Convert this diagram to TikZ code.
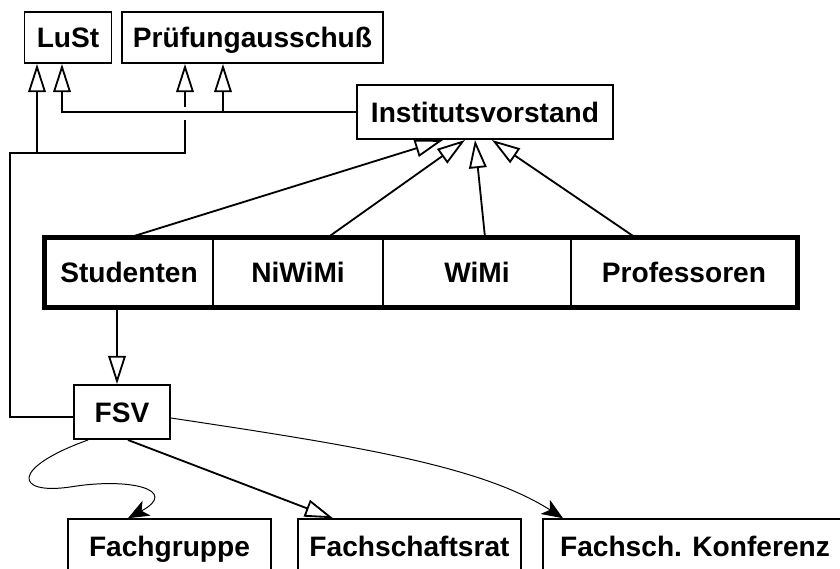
\documentclass[tikz,border=0pt]{standalone}
\usepackage{fontspec}
\setmainfont{Liberation Sans}
\usetikzlibrary{arrows.meta,calc}
\tikzset{
	box/.style={draw, line width=1.4pt, inner sep=0pt, text height=14.3pt, text depth=0pt, font=\bfseries\fontsize{20}{24}\selectfont},
	cell/.style={box, line width=1pt, minimum height=1.725cm},
	uml/.style={line width=1.3pt, -{Triangle[open, length=20pt, width=12.5pt]}},
	flow/.style={line width=0.7pt, -{Stealth[length=15pt, width=12pt, inset=4pt]}}
}

\begin{document}
\begin{tikzpicture}[x=0.025cm, y=-0.025cm]
			%%%%% START %%%%%
			\useasboundingbox (0,0) rectangle (840,568);
			\clip (0,0) rectangle (840,568);
			
			\node[box, minimum width=2.175cm, minimum height=1.275cm] (lust) at (68, 37.5) {LuSt};
			\node[box, minimum width=6.525cm, minimum height=1.275cm] (pruef) at (252.5, 37.5) {Prüfungausschuß};
			\node[box, minimum width=6.4cm, minimum height=1.35cm] (inst) at (485, 112) {Institutsvorstand};
			
			\node[cell, minimum width=4.2cm] (studenten) at (129, 272.5) {Studenten};
			\node[cell, minimum width=4.25cm] (niwimi) at (298, 272.5) {NiWiMi};
			\node[cell, minimum width=4.7cm] (wimi) at (477, 272.5) {WiMi};
			\node[cell, minimum width=5.65cm] (prof) at (684, 272.5) {Professoren};
			\draw[line width=3.2pt] (studenten.north west) rectangle (prof.south east);
			
			\node[box, minimum width=2.4cm, minimum height=1.35cm] (fsv) at (122, 412) {FSV};
			
			\node[box, line width=1.1pt, minimum width=5.075cm, minimum height=1.35cm] (fgruppe) at (169.5, 546) {Fachgruppe};
			\node[box, line width=1.1pt, minimum width=5.575cm, minimum height=1.35cm] (fsrat) at (409.5, 546) {Fachschaftsrat};
			\node[box, line width=1.1pt, minimum width=7.6cm, minimum height=1.35cm] (konf) at (695, 546) {Fachsch. Konferenz};
			
			\coordinate (la) at ($(lust.south)+(-31,0)$);
			\coordinate (lb) at ($(lust.south)+(-6,0)$);
			\coordinate (pa) at ($(pruef.south)+(-67.5,0)$);
			\coordinate (pb) at ($(pruef.south)+(-29.5,0)$);
			\coordinate (fw) at ($(fsv.west)+(0,5)$);
			
			\draw[uml] (inst.west) -| (lb);
			\draw[uml] (pb |- inst.west) -- (pb);
			
			\draw[line width=1.3pt] (fw) -| (10,153) -- (pa |- 0,153) -- (pa |- 0,120);
			\draw[uml] (pa |- 0,107) -- (pa);
			\draw[uml] (la |- 0,153) -- (la);
			
			\draw[uml] ($(studenten.north)+(1,0)$) -- ($(inst.south)+(-42,0)$);
			\draw[uml] ($(niwimi.north)+(30,0)$) -- ($(inst.south)+(-20,0)$);
			\draw[uml] ($(wimi.north)+(8,0)$) -- ($(inst.south)+(-10,0)$);
			\draw[uml] ($(prof.north)+(-49,0)$) -- ($(inst.south)+(7,0)$);
			
			\draw[uml] ($(studenten.south)+(-12,0)$) -- ($(fsv.north)+(-5,0)$);
			
			\draw[uml] ($(fsv.south)+(6,0)$) -- ($(fsrat.north)+(-76.5,0)$);
			\draw[flow] ($(fsv.south)+(-34,0)$) .. controls (10,468) and (15,495) .. (70,487) .. controls (130,477) and (180,490) .. ($(fgruppe.north)+(-41.5,0)$);
			\draw[flow] ($(fsv.east)+(0,6)$) .. controls (350,445) and (480,465) .. ($(konf.north)+(-132,0)$);
			
			%%%%% END %%%%%
\end{tikzpicture}
\end{document}
